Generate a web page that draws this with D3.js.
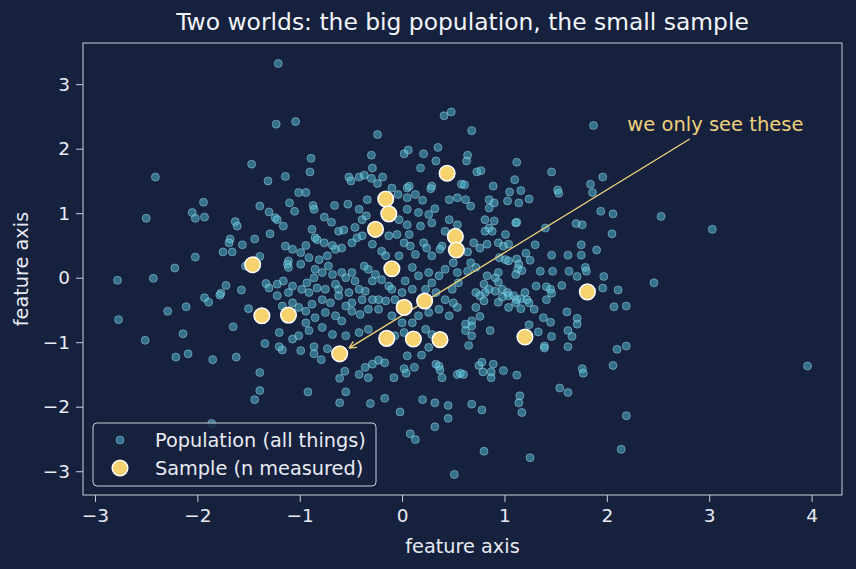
<!DOCTYPE html>
<html>
<head>
<meta charset="utf-8">
<script src="https://cdn.jsdelivr.net/npm/d3@7"></script>
<style>
  body { margin: 0; background: #16213e; }
  svg { display: block; font-family: "DejaVu Sans", sans-serif; }
</style>
</head>
<body>
<div id="chart"></div>
<script>
// population: every point we could ever look at (x, y)
var population = [
  [-1.47,1.76],[-2.41,1.56],[-1.31,1.50],
  [-1.21,3.32],[-1.23,2.38],[-1.04,2.42],[-0.24,2.22],[0.41,2.51],[0.48,2.57],[-0.89,1.85],[-0.90,1.64],[-1.14,1.57],
  [-0.30,1.90],[-0.29,1.70],[0.02,1.92],[0.06,1.98],[0.21,1.92],[0.35,2.02],[0.33,1.81],[0.18,1.70],[-0.52,1.56],
  [-0.50,1.50],[-0.42,1.56],[-0.37,1.59],[-0.30,1.54],[-0.19,1.56],[-0.24,1.46],[-0.10,1.39],[0.05,1.39],[0.07,1.42],
  [0.29,1.42],[0.28,1.38],[0.58,1.45],[-1.01,1.32],[-0.94,1.32],
  [0.68,2.28],[1.87,2.36],[0.64,1.90],[0.63,1.81],[1.12,1.79],[0.73,1.64],[0.77,1.66],[1.10,1.52],[1.46,1.64],
  [1.96,1.56],[1.84,1.45],[0.61,1.44],[0.89,1.42],[1.05,1.33],[1.16,1.35],[1.52,1.36],[1.86,1.32],
  [2.53,0.95],[3.03,0.75],[2.46,-0.08],
  [-1.94,1.17],[-2.50,0.92],[-2.05,1.01],[-2.02,0.92],[-1.93,0.94],[-1.63,0.87],[-1.61,0.80],[-1.39,1.11],[-1.30,1.02],
  [-1.29,0.68],[-1.68,0.60],[-1.69,0.54],[-1.56,0.51],[-1.44,0.60],[-1.75,0.40],[-1.66,0.40],[-2.02,0.32],[-1.39,0.33],
  [-1.53,0.18],[-2.22,0.15],[-2.43,-0.01],[-2.78,-0.04],[-1.72,-0.12],[-1.77,-0.24],[-1.78,-0.27],[-1.57,-0.19],
  [-1.33,-0.09],[-1.30,-0.16],[-1.93,-0.31],[-1.89,-0.38],[-2.11,-0.45],[-2.29,-0.52],[-1.50,-0.48],[-2.77,-0.65],
  [-1.65,-0.76],[-2.14,-0.87],[-2.51,-0.97],[-1.34,-1.02],
  [-2.21,-1.23],[-2.09,-1.18],[-1.85,-1.27],[-1.62,-1.23],[-1.39,-1.47],[-1.39,-1.75],[-1.44,-1.89],[-1.86,-2.26],
  [-1.17,-1.12],[-1.20,-1.07],[-0.99,-1.13],[-0.86,-1.07],[-0.86,-1.18],[-0.79,-1.27],[-0.73,-1.10],[-0.56,-1.45],
  [-0.61,-1.56],[-0.42,-1.50],[-0.36,-1.39],[-0.33,-1.55],[-0.29,-1.34],[-0.23,-1.28],[-0.17,-1.32],[-0.92,-1.77],
  [-0.55,-1.77],[-0.61,-1.94],[-0.31,-1.95],[-0.17,-1.87],[-0.08,-1.55],[0.02,-1.41],[0.04,-1.48],[0.12,-1.39],
  [0.05,-1.21],[0.19,-1.20],[0.26,-1.08],[0.33,-1.34],[0.36,-1.37],[0.37,-1.43],[0.39,-1.55],[0.54,-1.50],[0.57,-1.48],
  [-0.02,-2.08],[0.20,-1.89],[0.32,-1.94],[0.45,-1.98],[0.45,-2.18],[0.32,-2.31],[0.08,-2.42],[0.13,-2.51],[0.51,-3.05],
  [0.65,-1.05],[1.39,-1.06],[1.39,-1.09],[1.62,-1.07],[2.10,-1.11],[2.19,-1.06],[0.75,-1.36],[0.78,-1.31],[0.89,-1.34],
  [0.79,-1.46],[0.87,-1.46],[0.87,-1.55],[0.99,-1.44],[1.12,-1.51],[0.60,-1.50],[1.76,-1.41],[1.77,-1.48],[2.06,-1.36],
  [1.54,-1.71],[1.62,-1.78],[1.15,-1.83],[1.14,-1.94],[1.17,-2.09],[0.68,-1.96],[0.78,-2.05],[2.19,-2.14],[0.80,-2.69],
  [1.25,-2.79],[2.14,-2.66],[3.96,-1.37],
  [1.94,1.03],[2.06,0.99],[1.70,0.84],[1.76,0.82],[2.05,0.68],[1.75,0.51],[1.90,0.43],[1.46,0.35],[1.62,0.35],[1.75,0.35],
  [1.79,0.16],[1.80,0.10],[1.97,0.02],[1.63,0.10],[1.47,0.10],[1.35,0.10],[1.71,0.02],[1.56,-0.12],[1.41,-0.14],[1.45,-0.18],
  [1.46,-0.24],[1.31,-0.13],[1.96,-0.16],[2.11,-0.19],[1.41,-0.34],[2.07,-0.45],[2.19,-0.44],[1.61,-0.53],[1.38,-0.62],
  [1.45,-0.69],[1.71,-0.63],[1.71,-0.72],[1.62,-0.82],[1.66,-0.91],[1.46,-0.91],[1.33,-0.84],[1.24,-0.73],[0.86,-0.82],
  [1.40,0.77],[1.30,0.51],[1.21,0.38],[1.25,0.27],[1.12,0.29],[1.14,0.21],[1.13,0.14],[1.17,0.11],[1.11,0.05],[0.95,0.31],
  [1.01,0.28],[1.04,0.26],[0.94,0.08],[0.91,0.00],[0.94,-0.07],[0.83,0.03],[0.80,-0.10],[0.85,-0.18],[0.81,-0.23],[0.72,-0.23],
  [0.76,-0.28],[0.91,-0.21],[0.98,-0.18],[1.03,-0.23],[1.04,-0.28],[1.09,-0.28],[1.12,-0.34],[1.16,-0.33],[1.20,-0.23],
  [1.22,-0.34],[1.24,-0.39],[1.29,-0.49],[1.04,-0.46],[1.16,-0.48],[1.11,-0.39],[0.94,-0.38],[0.98,-0.30],[0.80,-0.36],
  [0.72,-0.46],[0.76,-0.60],[0.68,-0.67],[0.68,-0.75],[0.62,-0.72],[0.62,-0.82],[0.68,-0.90],[0.62,1.21],[0.67,1.11],
  [0.85,1.21],[0.85,1.08],[0.90,1.16],[1.03,1.19],[1.14,1.16],[1.24,1.22],[0.81,0.90],[0.90,0.88],[0.85,0.77],[0.81,0.72],
  [0.88,0.72],[1.11,0.85],[1.12,0.86],[1.01,0.67],[0.70,0.54],[0.76,0.46],[0.83,0.52],[0.94,0.54],[0.99,0.49],[1.04,0.52],
  [0.64,0.40],[0.67,0.23],[0.72,0.16],[0.64,0.10],[1.53,1.31],
  [-0.87,1.12],[-0.86,1.06],[-1.10,1.16],[-0.66,1.12],[-0.53,1.14],[-0.34,1.21],[-0.04,1.29],[0.05,1.24],[0.13,1.29],
  [0.20,1.20],[0.32,1.07],[0.46,1.21],[0.54,1.24],
  [-1.24,0.93],[-1.22,0.90],[-1.05,1.03],[-0.76,0.94],[-0.69,0.86],[-0.42,1.06],[-0.39,0.90],[-0.35,0.96],[-0.46,0.78],
  [-0.62,0.72],[-0.57,0.74],[-0.88,0.75],[-1.16,0.80],[0.05,1.06],[0.16,1.01],[0.26,0.98],[-0.03,0.90],[0.05,0.82],
  [0.07,0.67],[0.18,0.80],[0.29,0.85],[0.46,0.90],[0.54,0.82],[0.42,0.72],
  [-0.85,0.62],[-0.83,0.59],[-0.94,0.50],[-0.76,0.54],[-0.68,0.50],[-0.65,0.44],[-0.73,0.34],[-0.81,0.28],[-0.59,0.46],
  [-0.49,0.54],[-0.44,0.62],[-0.39,0.65],[-0.29,0.52],[-0.20,0.41],[-0.16,0.34],[-0.03,0.34],[0.02,0.54],[-0.05,0.67],
  [-0.13,0.65],[0.08,0.49],[0.13,0.36],[0.21,0.54],[0.24,0.46],[0.29,0.34],[0.39,0.49],[0.37,0.44],[-1.07,0.44],
  [-1.14,0.49],[-0.99,0.39],[-1.11,0.26],[-0.91,0.31],
  [-1.12,0.21],[-1.11,0.16],[-0.99,0.21],[-0.85,0.13],[-0.78,0.08],[-0.86,0.00],[-0.93,-0.08],[-0.72,0.18],[-0.68,0.05],
  [-0.59,0.08],[-0.55,0.00],[-0.49,0.08],[-0.46,-0.05],[-0.37,0.18],[-0.33,0.13],[-0.29,-0.05],[-0.26,0.05],[-0.20,-0.03],
  [-0.13,-0.13],[-0.10,-0.18],[-0.36,-0.21],[-0.42,-0.18],[-0.52,-0.23],[-0.62,-0.18],[-0.65,-0.10],[-0.75,-0.18],
  [-0.83,-0.16],[-0.91,-0.23],[-0.98,-0.18],[-1.07,-0.13],[-1.16,-0.05],[-1.22,-0.10],[-1.11,-0.23],[0.10,0.16],[0.16,0.03],
  [0.26,0.08],[0.29,-0.08],[0.36,0.03],[0.42,0.13],[0.50,0.23],[0.54,0.08],[0.55,-0.08],[0.03,-0.05],[0.10,-0.18],
  [0.00,-0.23],[-0.07,-0.34],[-0.16,-0.36],[-0.23,-0.34],[-0.29,-0.34],[-0.39,-0.34],[-0.49,-0.39],[-0.55,-0.44],
  [-0.62,-0.28],[-0.70,-0.39],[-0.78,-0.34],[-0.88,-0.41],[-0.94,-0.52],[-1.01,-0.46],[-1.07,-0.39],[-1.17,-0.44],
  [-1.22,-0.28],[0.23,-0.18],[0.33,-0.23],[0.42,-0.34],[0.50,-0.39],[0.49,-0.18],
  [-0.75,-0.54],[-0.65,-0.59],[-0.59,-0.67],[-0.49,-0.52],[-0.41,-0.57],[-0.33,-0.49],[-0.23,-0.49],[-0.10,-0.59],
  [0.00,-0.70],[0.10,-0.70],[0.16,-0.59],[0.26,-0.54],[0.36,-0.49],[0.46,-0.59],[0.54,-0.46],[0.23,-0.80],[0.29,-0.88],
  [0.02,-0.85],[-0.07,-0.90],[-0.33,-0.80],[-0.42,-0.85],[-0.55,-0.90],[-0.68,-0.88],[-0.78,-0.77],[-0.91,-0.82],
  [-1.01,-0.90],[-1.07,-0.95],[-1.20,-0.85],[-0.85,-0.62],[-0.94,-0.70]
];

// sample: the few we actually measured
var sample = [
  [0.44,1.62],[-0.16,1.22],[-0.13,0.99],[-0.26,0.75],[0.52,0.64],[0.53,0.43],[-1.46,0.20],[-0.10,0.14],[1.81,-0.22],
  [0.22,-0.36],[0.02,-0.46],[-1.37,-0.59],[-1.11,-0.58],[1.20,-0.92],[-0.15,-0.94],[0.11,-0.95],[0.37,-0.96],[-0.61,-1.18]
];

var xTicks = [-3, -2, -1, 0, 1, 2, 3, 4];
var yTicks = [-3, -2, -1, 0, 1, 2, 3];
var legendLabels = ["Population (all things)", "Sample (n measured)"];

// annotation: text anchor, arrow tail, arrow target (data units)
var noteText = "we only see these";
var notePos = [2.2, 2.27];
var arrowFrom = [2.81, 2.15];
var arrowTo = [-0.61, -1.18];

var bg = "#16213e",
    fg = "#e8ebf2",
    spine = "#c9cfdb",
    popFill = "#52c0d8",
    sampleFill = "#f7d36f",
    noteColor = "#f0d27c";

var margin = {top: 43, right: 14, bottom: 74, left: 83},
    W = 856, H = 569,
    width = W - margin.left - margin.right,
    height = H - margin.top - margin.bottom;

var svg = d3.select("#chart").append("svg")
    .attr("width", W)
    .attr("height", H);

svg.append("rect").attr("width", W).attr("height", H).attr("fill", bg);

var g = svg.append("g")
    .attr("transform", "translate(" + margin.left + "," + margin.top + ")");

// matplotlib-style 5% padding around the data
var allX = population.concat(sample).map(function(d) { return d[0]; }),
    allY = population.concat(sample).map(function(d) { return d[1]; });
var xe = d3.extent(allX), ye = d3.extent(allY);
var xp = (xe[1] - xe[0]) * 0.05, yp = (ye[1] - ye[0]) * 0.05;

var x = d3.scaleLinear().domain([xe[0] - xp, xe[1] + xp]).range([0, width]);
var y = d3.scaleLinear().domain([ye[0] - yp, ye[1] + yp]).range([height, 0]);

// axes
var fmt = d3.format("d");
var xAxis = g.append("g")
    .attr("transform", "translate(0," + height + ")")
    .call(d3.axisBottom(x).tickValues(xTicks).tickFormat(fmt).tickSize(7).tickPadding(7));
var yAxis = g.append("g")
    .call(d3.axisLeft(y).tickValues(yTicks).tickFormat(fmt).tickSize(7).tickPadding(6));

[xAxis, yAxis].forEach(function(a) {
  a.select(".domain").remove();
  a.selectAll("line").attr("stroke", spine).attr("stroke-width", 1);
  a.selectAll("text").attr("fill", fg).style("font-size", "18.5px")
    .style("font-family", "DejaVu Sans, sans-serif");
});

// frame
g.append("rect")
    .attr("width", width).attr("height", height)
    .attr("fill", "none").attr("stroke", spine).attr("stroke-width", 1);

// population
g.append("g").selectAll("circle")
  .data(population)
  .enter().append("circle")
    .attr("cx", function(d) { return x(d[0]); })
    .attr("cy", function(d) { return y(d[1]); })
    .attr("r", 4)
    .attr("fill", popFill)
    .attr("fill-opacity", 0.5)
    .attr("stroke", "#a9e6f1")
    .attr("stroke-opacity", 0.45)
    .attr("stroke-width", 1);

// annotation arrow
var ax0 = x(arrowFrom[0]), ay0 = y(arrowFrom[1]),
    ax1 = x(arrowTo[0]), ay1 = y(arrowTo[1]);
var ang = Math.atan2(ay1 - ay0, ax1 - ax0),
    tipX = ax1 - 11 * Math.cos(ang), tipY = ay1 - 11 * Math.sin(ang);
g.append("line")
    .attr("x1", ax0).attr("y1", ay0).attr("x2", tipX).attr("y2", tipY)
    .attr("stroke", noteColor).attr("stroke-width", 1.3);
[-0.45, 0.45].forEach(function(o) {
  g.append("line")
      .attr("x1", tipX).attr("y1", tipY)
      .attr("x2", tipX - 8 * Math.cos(ang + o))
      .attr("y2", tipY - 8 * Math.sin(ang + o))
      .attr("stroke", noteColor).attr("stroke-width", 1.3);
});

g.append("text")
    .attr("x", x(notePos[0])).attr("y", y(notePos[1]))
    .attr("fill", noteColor)
    .style("font-size", "19.5px")
    .text(noteText);

// sample
g.append("g").selectAll("circle")
  .data(sample)
  .enter().append("circle")
    .attr("cx", function(d) { return x(d[0]); })
    .attr("cy", function(d) { return y(d[1]); })
    .attr("r", 7.8)
    .attr("fill", sampleFill)
    .attr("stroke", "#ffffff")
    .attr("stroke-width", 1.5);

// legend
var lg = g.append("g").attr("transform", "translate(10," + (height - 72) + ")");
lg.append("rect")
    .attr("width", 283).attr("height", 63).attr("rx", 4)
    .attr("fill", bg).attr("fill-opacity", 0.85)
    .attr("stroke", spine).attr("stroke-width", 1);
lg.append("circle").attr("cx", 27).attr("cy", 17).attr("r", 4)
    .attr("fill", popFill).attr("fill-opacity", 0.5)
    .attr("stroke", "#a9e6f1").attr("stroke-opacity", 0.45);
lg.append("circle").attr("cx", 27).attr("cy", 45).attr("r", 7.8)
    .attr("fill", sampleFill).attr("stroke", "#ffffff").attr("stroke-width", 1.5);
lg.selectAll("text.lbl")
  .data(legendLabels)
  .enter().append("text")
    .attr("x", 62)
    .attr("y", function(d, i) { return 23.5 + i * 28; })
    .attr("fill", fg)
    .style("font-size", "19.3px")
    .text(function(d) { return d; });

// title and axis labels
svg.append("text")
    .attr("x", margin.left + width / 2).attr("y", 30)
    .attr("text-anchor", "middle")
    .attr("fill", "#f3f5fa")
    .style("font-size", "23.4px")
    .text("Two worlds: the big population, the small sample");

svg.append("text")
    .attr("x", margin.left + width / 2).attr("y", H - 16)
    .attr("text-anchor", "middle")
    .attr("fill", fg)
    .style("font-size", "19.3px")
    .text("feature axis");

svg.append("text")
    .attr("transform", "translate(28," + (margin.top + height / 2) + ") rotate(-90)")
    .attr("text-anchor", "middle")
    .attr("fill", fg)
    .style("font-size", "19.3px")
    .text("feature axis");
</script>
</body>
</html>
